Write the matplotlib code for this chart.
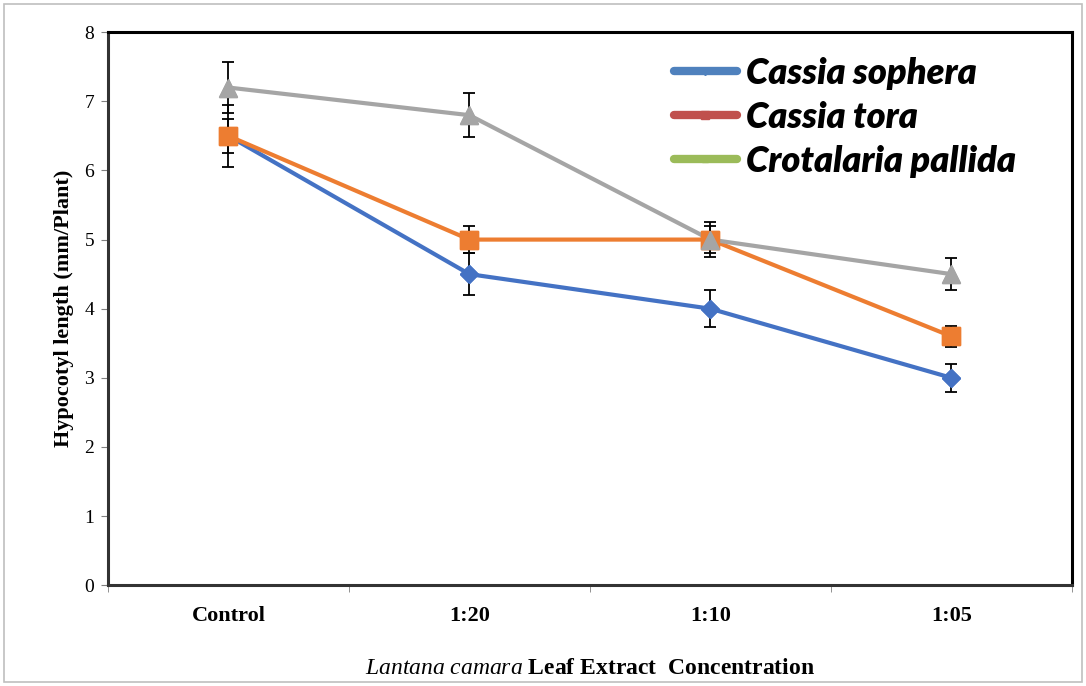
import matplotlib
matplotlib.use('Agg')
from matplotlib import pyplot as plt
from matplotlib.lines import Line2D
from matplotlib.patches import Rectangle
import numpy as np

# data
categories = ['Control', '1:20', '1:10', '1:05']
sophera = [6.5, 4.5, 4.0, 3.0]
sophera_err = [0.45, 0.3, 0.27, 0.2]
tora = [6.5, 5.0, 5.0, 3.6]
tora_err = [0.25, 0.19, 0.2, 0.15]
pallida = [7.2, 6.8, 5.0, 4.5]
pallida_err = [0.37, 0.32, 0.25, 0.23]
legend_names = ['Cassia sophera', 'Cassia tora', 'Crotalaria pallida']

plt.rcParams['mathtext.fontset'] = 'custom'
plt.rcParams['mathtext.it'] = 'Liberation Serif:italic'
plt.rcParams['mathtext.rm'] = 'Liberation Serif'

fig = plt.figure(figsize=(10.86, 6.86), dpi=100)
ax = fig.add_axes([0.0994, 0.147, 0.8876, 0.806])

# chart area border
fig.patches.append(Rectangle((0.004, 0.006), 0.992, 0.988, transform=fig.transFigure,
                             fill=False, edgecolor='#bfbfbf', linewidth=1.2))

x = np.arange(len(categories))
series = [
    (sophera, sophera_err, '#4472C4', 'D', 9),
    (tora, tora_err, '#ED7D31', 's', 13),
    (pallida, pallida_err, '#A5A5A5', '^', 13),
]
for vals, err, col, mk, ms in series:
    ax.plot(x, vals, color=col, lw=3, marker=mk, ms=ms, zorder=3)
    ax.errorbar(x, vals, yerr=err, fmt='none', ecolor='black', elinewidth=1.3,
                capsize=4.5, capthick=1.3, zorder=4)
    ax.plot(x, vals, ls='none', color=col, marker=mk, ms=ms, zorder=5)

ax.set_xlim(-0.5, 3.5)
ax.set_ylim(0, 8)
ax.set_yticks(range(0, 9))
ax.set_xticks(x)
ax.set_xticklabels(categories, family='Liberation Serif', fontweight='bold', fontsize=16)
ax.set_xticks(np.arange(-0.5, 4, 1), minor=True)
ax.tick_params(axis='x', which='major', length=0, pad=15)
ax.tick_params(axis='x', which='minor', length=5, color='#808080', direction='out')
ax.tick_params(axis='y', length=5, color='#808080', pad=5)
for lab in ax.get_yticklabels():
    lab.set_family('Liberation Serif')
    lab.set_fontsize(14)

for s in ax.spines.values():
    s.set_linewidth(2.2)
    s.set_color('black')
ax.spines['left'].set_color('#333333')
ax.spines['bottom'].set_color('#333333')

ax.set_ylabel('Hypocotyl length (mm/Plant)', family='Liberation Serif',
              fontweight='bold', fontsize=16, labelpad=7)
ax.set_xlabel(r'$\mathit{Lantana\ camara}$ Leaf Extract  Concentration',
              family='Liberation Serif', fontweight='bold', fontsize=17, labelpad=23)

handles = [
    Line2D([], [], color='#4F81BD', lw=6, marker='D', ms=4, solid_capstyle='round'),
    Line2D([], [], color='#C0504D', lw=6, marker='s', ms=6, solid_capstyle='round'),
    Line2D([], [], color='#9BBB59', lw=6, marker='^', ms=5, solid_capstyle='round'),
]
leg = ax.legend(handles, legend_names, loc='upper left', bbox_to_anchor=(0.587, 0.955),
                frameon=False, handlelength=1.75, handletextpad=0.25, labelspacing=0.3,
                borderpad=0, borderaxespad=0,
                prop={'family': 'Lato', 'weight': 'heavy', 'style': 'italic', 'size': 26})

plt.savefig('out.png', dpi=100)
